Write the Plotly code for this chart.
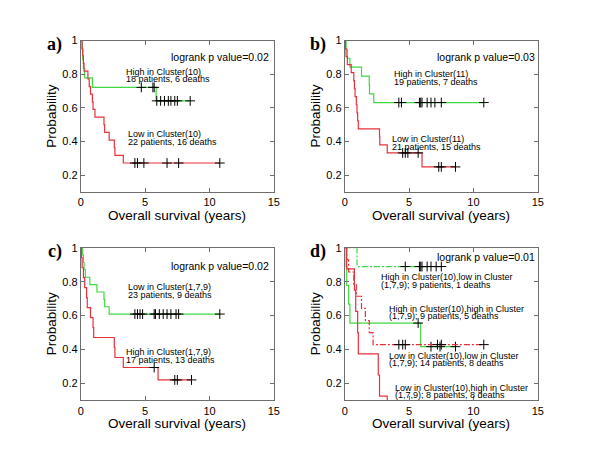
import plotly.graph_objects as go

# ---- data ----
# panel a
a_high_t = [0.1, 0.15, 0.2, 0.3, 0.9, 5.85]
a_high_s = [0.944, 0.889, 0.833, 0.778, 0.722, 0.642]
a_high_cens = [4.7, 5.6, 5.7, 5.9, 6.2, 6.5, 6.8, 7.0, 7.3, 7.5, 8.5]
a_low_t = [0.1, 0.15, 0.2, 0.25, 0.55, 0.65, 0.75, 0.9, 0.95, 1.1, 1.8, 1.85, 2.2, 2.6, 2.65, 3.3]
a_low_s = [0.955, 0.909, 0.864, 0.818, 0.773, 0.727, 0.682, 0.636, 0.591, 0.545, 0.5, 0.455, 0.409, 0.364, 0.318, 0.273]
a_low_cens = [4.2, 4.4, 4.9, 6.7, 7.6, 10.8]

# panel b
b_high_t = [0.1, 0.2, 0.4, 1.3, 1.9, 1.92, 2.25]
b_high_s = [0.947, 0.895, 0.842, 0.789, 0.737, 0.684, 0.632]
b_high_cens = [4.2, 4.4, 5.8, 5.9, 6.0, 6.4, 6.7, 7.0, 7.5, 10.8]
b_low_t = [0.05, 0.1, 0.2, 0.5, 0.7, 0.75, 0.8, 0.9, 0.95, 1.0, 1.05, 2.7, 2.72, 3.3, 6.0]
b_low_s = [0.952, 0.905, 0.857, 0.81, 0.762, 0.714, 0.667, 0.619, 0.571, 0.524, 0.476, 0.429, 0.381, 0.333, 0.25]
b_low_cens = [4.5, 4.7, 4.9, 5.7, 7.3, 7.5, 8.6]

# panel c
c_low_t = [0.15, 0.2, 0.25, 0.35, 0.7, 1.25, 1.8, 1.85, 2.2]
c_low_s = [0.957, 0.913, 0.870, 0.826, 0.783, 0.739, 0.696, 0.652, 0.609]
c_low_cens = [4.2, 4.4, 4.6, 4.8, 5.7, 5.8, 6.1, 6.4, 6.7, 7.0, 7.4, 7.6, 10.8]
c_high_t = [0.05, 0.1, 0.2, 0.3, 0.45, 0.5, 0.75, 0.95, 1.0, 2.6, 2.65, 3.3, 6.0]
c_high_s = [0.941, 0.882, 0.824, 0.765, 0.706, 0.647, 0.588, 0.529, 0.471, 0.412, 0.353, 0.294, 0.221]
c_high_cens = [5.7, 7.3, 7.5, 8.6]

# panel d
d_hl_t = [0.95]
d_hl_s = [0.889]
d_hl_cens = [4.7, 5.8, 5.9, 6.0, 6.4, 6.7, 7.1, 7.5]
d_hh_t = [0.1, 0.15, 0.3, 0.4, 5.9]
d_hh_s = [0.889, 0.778, 0.667, 0.556, 0.417]
d_hh_cens = [5.7, 6.7, 7.4, 8.6]
d_ll_t = [0.15, 0.3, 0.7, 0.9, 1.3, 1.6, 1.9, 2.2]
d_ll_s = [0.929, 0.857, 0.786, 0.714, 0.643, 0.571, 0.5, 0.429]
d_ll_cens = [4.2, 4.5, 4.7, 7.2, 7.5, 10.8]
d_lh_t = [0.15, 0.75, 0.85, 1.0, 1.05, 2.6, 2.7, 3.3]
d_lh_s = [0.875, 0.75, 0.625, 0.5, 0.375, 0.25, 0.125, 0.0]
d_lh_cens = []

x_ticks = [0, 5, 10, 15]
y_ticks = [0.2, 0.4, 0.6, 0.8, 1]
y_ticktext = ["0.2", "0.4", "0.6", "0.8", "1"]

pvals = ["logrank p value=0.02", "logrank p value=0.03", "logrank p value=0.02", "logrank p value=0.01"]
panel_tags = ["a)", "b)", "c)", "d)"]

RED = "#e8303c"
GREEN = "#40d840"
FONT = "Liberation Sans, Arial, sans-serif"

fig = go.Figure()


def level(c, t, s):
    v = 1.0
    for ti, si in zip(t, s):
        if ti <= c:
            v = si
    return v


def add_curve(n, t, s, cens, color, dash="solid"):
    xa = "x" if n == 1 else "x%d" % n
    ya = "y" if n == 1 else "y%d" % n
    end = max([t[-1]] + cens)
    xs = [0] + t + [end]
    ys = [1] + s + [s[-1]]
    fig.add_trace(go.Scatter(x=xs, y=ys, mode="lines", xaxis=xa, yaxis=ya,
                             line=dict(color=color, width=1.2, dash=dash, shape="hv"),
                             showlegend=False, hoverinfo="skip"))
    if cens:
        fig.add_trace(go.Scatter(x=cens, y=[level(c, t, s) for c in cens], mode="markers",
                                 xaxis=xa, yaxis=ya, showlegend=False, hoverinfo="skip",
                                 marker=dict(symbol="cross-thin", size=7, line=dict(color="black", width=1))))


DD = "6px,2px,2px,2px"
add_curve(1, a_high_t, a_high_s, a_high_cens, GREEN)
add_curve(1, a_low_t, a_low_s, a_low_cens, RED)
add_curve(2, b_high_t, b_high_s, b_high_cens, GREEN)
add_curve(2, b_low_t, b_low_s, b_low_cens, RED)
add_curve(3, c_low_t, c_low_s, c_low_cens, GREEN)
add_curve(3, c_high_t, c_high_s, c_high_cens, RED)
add_curve(4, d_hl_t, d_hl_s, d_hl_cens, GREEN, DD)
add_curve(4, d_hh_t, d_hh_s, d_hh_cens, GREEN)
add_curve(4, d_ll_t, d_ll_s, d_ll_cens, RED, DD)
add_curve(4, d_lh_t, d_lh_s, d_lh_cens, RED)

xdoms = [[0.1317, 0.4583], [0.5783, 0.905], [0.1317, 0.4583], [0.5783, 0.905]]
ydoms = [[0.5807, 0.9222], [0.5807, 0.9222], [0.1116, 0.4556], [0.1116, 0.4556]]

axis_common = dict(showline=True, linecolor="#6e6e6e", linewidth=1, mirror="allticks",
                   ticks="inside", ticklen=4, tickcolor="#6e6e6e", showgrid=False, zeroline=False,
                   tickfont=dict(family=FONT, size=11, color="black"))

layout = dict(width=600, height=450, margin=dict(l=0, r=0, t=0, b=0),
              paper_bgcolor="white", plot_bgcolor="white")
for i in range(4):
    k = "" if i == 0 else str(i + 1)
    layout["xaxis" + k] = dict(domain=xdoms[i], range=[0, 15], tickvals=x_ticks,
                               anchor="y" + k, **axis_common)
    layout["yaxis" + k] = dict(domain=ydoms[i], range=[0.1, 1], tickvals=y_ticks,
                               ticktext=y_ticktext, anchor="x" + k, **axis_common)
fig.update_layout(**layout)

ann = []
for i in range(4):
    x0, x1 = xdoms[i]
    y0, y1 = ydoms[i]
    ann.append(dict(text="<b>%s</b>" % panel_tags[i], xref="paper", yref="paper", x=x0 - 0.028,
                    y=y1 - 0.008, xanchor="right", yanchor="middle", showarrow=False,
                    font=dict(family="Liberation Serif, Times New Roman, serif", size=18, color="black")))
    ann.append(dict(text="Probability", xref="paper", yref="paper", x=x0 - 0.05, y=(y0 + y1) / 2,
                    textangle=-90, xanchor="center", yanchor="middle", showarrow=False,
                    font=dict(family=FONT, size=13.5, color="black")))
    ann.append(dict(text="Overall survival (years)", xref="paper", yref="paper", x=(x0 + x1) / 2,
                    y=y0 - 0.052, xanchor="center", yanchor="middle", showarrow=False,
                    font=dict(family=FONT, size=13.5, color="black")))

# in-plot texts: (panel, x, y, text, size)
texts = [
    (1, 6.84, 0.902, pvals[0], 10.5),
    (1, 3.39, 0.815, "High in Cluster(10)", 9),
    (1, 3.39, 0.772, "18 patients, 6 deaths", 9),
    (1, 3.52, 0.448, "Low in Cluster(10)", 9),
    (1, 3.52, 0.395, "22 patients, 16 deaths", 9),
    (2, 7.0, 0.902, pvals[1], 10.5),
    (2, 3.65, 0.80, "High in Cluster(11)", 9),
    (2, 3.65, 0.756, "19 patients, 7 deaths", 9),
    (2, 3.52, 0.415, "Low in Cluster(11)", 9),
    (2, 3.52, 0.37, "21 patients, 15 deaths", 9),
    (3, 6.84, 0.893, pvals[2], 10.5),
    (3, 3.52, 0.767, "Low in Cluster(1,7,9)", 9),
    (3, 3.52, 0.723, "23 patients, 9 deaths", 9),
    (3, 3.39, 0.386, "High in Cluster(1,7,9)", 9),
    (3, 3.39, 0.339, "17 patients, 13 deaths", 9),
    (4, 7.02, 0.946, pvals[3], 10.5),
    (4, 2.63, 0.826, "High in Cluster(10),low in Cluster", 9),
    (4, 2.63, 0.783, "(1,7,9); 9 patients, 1 deaths", 9),
    (4, 3.27, 0.641, "High in Cluster(10),high in Cluster", 9),
    (4, 3.27, 0.597, "(1,7,9); 9 patients, 5 deaths", 9),
    (4, 3.27, 0.36, "Low in Cluster(10),low in Cluster", 9),
    (4, 3.27, 0.322, "(1,7,9); 14 patients, 8 deaths", 9),
    (4, 3.75, 0.172, "Low in Cluster(10),high in Cluster", 9),
    (4, 3.75, 0.132, "(1,7,9); 8 patients, 8 deaths", 9),
]
for n, x, y, t, sz in texts:
    k = "" if n == 1 else str(n)
    ann.append(dict(text=t, xref="x" + k, yref="y" + k, x=x, y=y, xanchor="left", yanchor="middle",
                    showarrow=False, font=dict(family=FONT, size=sz, color="black")))

fig.update_layout(annotations=ann)
fig.write_html("out.html", config={"displayModeBar": False},
               post_script="document.body.style.margin='0';")
